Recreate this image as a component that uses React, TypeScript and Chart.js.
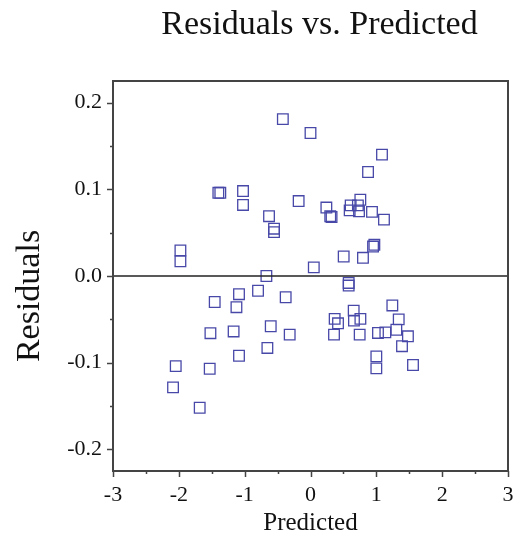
import React, { useEffect, useRef } from "react";
import { Chart, registerables } from "chart.js";

Chart.register(...registerables);

const TITLE = "Residuals vs. Predicted";
const X_LABEL = "Predicted";
const Y_LABEL = "Residuals";

const X_TICKS = [-3, -2, -1, 0, 1, 2, 3];
const X_MINOR = [-2.5, -1.5, -0.5, 0.5, 1.5, 2.5];
const Y_TICKS = [-0.2, -0.1, 0, 0.1, 0.2];
const Y_MINOR = [-0.15, -0.05, 0.05, 0.15];

const PREDICTED = [
  -0.42, 0.0, -1.4, -1.37, -1.025, -1.025, -0.18, -0.63, -0.554, -0.554,
  -1.976, -1.976, 0.05, 1.086, 0.874, 0.241, 0.3, 0.32, 0.595, 0.61,
  0.757, 0.72, 0.737, 0.934, 1.116, 0.95, 0.97, 0.504, 0.797, -0.67,
  0.58, 0.58, -0.797, -1.086, -0.377, -1.455, -1.125, -0.604, -1.52, -1.168,
  -0.316, -0.655, -1.086, -2.047, -1.531, -2.088, -1.683, 1.243, 1.34, 0.367,
  0.418, 0.656, 0.66, 0.758, 0.357, 0.747, 1.025, 1.137, 1.304, 1.48,
  1.39, 1.0, 1.0, 1.557,
];
const RESIDUALS = [
  0.181, 0.165, 0.096, 0.096, 0.098, 0.082, 0.0865, 0.069, 0.0546, 0.0506,
  0.0295, 0.017, 0.01, 0.14, 0.12, 0.079, 0.069, 0.068, 0.0757, 0.0815,
  0.088, 0.0815, 0.0746, 0.074, 0.065, 0.034, 0.036, 0.0225, 0.021, 0.0,
  -0.011, -0.008, -0.017, -0.021, -0.0245, -0.03, -0.036, -0.058, -0.066, -0.064,
  -0.0676, -0.083, -0.092, -0.104, -0.107, -0.1285, -0.152, -0.034, -0.05, -0.0495,
  -0.0546, -0.04, -0.0515, -0.0495, -0.0676, -0.0676, -0.0657, -0.065, -0.062, -0.0696,
  -0.081, -0.0927, -0.1066, -0.1027,
];

const SERIF = "'Liberation Serif', 'Times New Roman', serif";

const framePlugin = {
  id: "frame",
  afterDatasetsDraw(chart: any) {
    const { ctx, chartArea: a, scales } = chart;
    const xs = scales.x;
    const ys = scales.y;
    ctx.save();
    const y0 = ys.getPixelForValue(0);
    ctx.strokeStyle = "#222";
    ctx.lineWidth = 1.5;
    ctx.beginPath();
    ctx.moveTo(a.left, y0);
    ctx.lineTo(a.right, y0);
    ctx.stroke();
    ctx.strokeStyle = "#444";
    ctx.lineWidth = 2;
    ctx.strokeRect(a.left, a.top, a.right - a.left, a.bottom - a.top);
    ctx.lineWidth = 1.5;
    ctx.beginPath();
    Y_TICKS.forEach((v) => {
      const p = Math.round(ys.getPixelForValue(v)) + 0.5;
      ctx.moveTo(a.left - 6, p);
      ctx.lineTo(a.left, p);
    });
    Y_MINOR.forEach((v) => {
      const p = Math.round(ys.getPixelForValue(v)) + 0.5;
      ctx.moveTo(a.left - 3, p);
      ctx.lineTo(a.left, p);
    });
    X_TICKS.forEach((v) => {
      const p = Math.round(xs.getPixelForValue(v)) + 0.5;
      ctx.moveTo(p, a.bottom);
      ctx.lineTo(p, a.bottom + 6);
    });
    X_MINOR.forEach((v) => {
      const p = Math.round(xs.getPixelForValue(v)) + 0.5;
      ctx.moveTo(p, a.bottom);
      ctx.lineTo(p, a.bottom + 3);
    });
    ctx.stroke();
    ctx.fillStyle = "#111";
    ctx.textAlign = "center";
    ctx.textBaseline = "alphabetic";
    ctx.font = `34px ${SERIF}`;
    ctx.fillText(TITLE, (a.left + a.right) / 2 + 9, 34);
    ctx.font = `25px ${SERIF}`;
    ctx.fillText(X_LABEL, (a.left + a.right) / 2, 530);
    ctx.save();
    ctx.translate(39, (a.top + a.bottom) / 2 + 20);
    ctx.rotate(-Math.PI / 2);
    ctx.font = `34px ${SERIF}`;
    ctx.fillText(Y_LABEL, 0, 0);
    ctx.restore();
    ctx.restore();
  },
};

export default function App() {
  const ref = useRef<HTMLCanvasElement | null>(null);
  useEffect(() => {
    if (!ref.current) return;
    const data = PREDICTED.map((x, i) => ({ x, y: RESIDUALS[i] }));
    const chart = new Chart(ref.current, {
      type: "scatter",
      data: {
        datasets: [
          {
            data,
            pointStyle: "rect",
            pointRadius: 7.5,
            pointHoverRadius: 7.5,
            borderColor: "#4848a8",
            backgroundColor: "rgba(0,0,0,0)",
            borderWidth: 1.3,
          },
        ],
      },
      options: {
        responsive: false,
        animation: false,
        events: [],
        layout: { autoPadding: false, padding: { top: 81, right: 7, left: 0, bottom: 0 } },
        plugins: { legend: { display: false }, tooltip: { enabled: false }, title: { display: false } },
        scales: {
          x: {
            type: "linear",
            min: -3,
            max: 3,
            afterBuildTicks: (s: any) => {
              s.ticks = X_TICKS.map((v) => ({ value: v }));
            },
            afterFit: (s: any) => {
              s.height = 66;
              s.paddingLeft = 0;
              s.paddingRight = 0;
            },
            grid: { display: false, drawTicks: false },
            border: { display: false },
            ticks: {
              padding: 11,
              color: "#111",
              font: { family: SERIF, size: 22 },
              maxRotation: 0,
              callback: (v: any) => String(v),
            },
          },
          y: {
            type: "linear",
            min: -0.225,
            max: 0.225,
            afterBuildTicks: (s: any) => {
              s.ticks = Y_TICKS.map((v) => ({ value: v }));
            },
            afterFit: (s: any) => {
              s.width = 113;
              s.paddingTop = 0;
              s.paddingBottom = 0;
            },
            grid: { display: false, drawTicks: false },
            border: { display: false },
            ticks: {
              padding: 11,
              color: "#111",
              font: { family: SERIF, size: 22 },
              callback: (v: any) => Number(v).toFixed(1),
            },
          },
        },
      },
      plugins: [framePlugin],
    });
    return () => chart.destroy();
  }, []);
  return (
    <div style={{ position: "fixed", left: 0, top: 0, width: 515, height: 537, background: "#fff" }}>
      <canvas ref={ref} width={515} height={537} style={{ display: "block" }} />
    </div>
  );
}
